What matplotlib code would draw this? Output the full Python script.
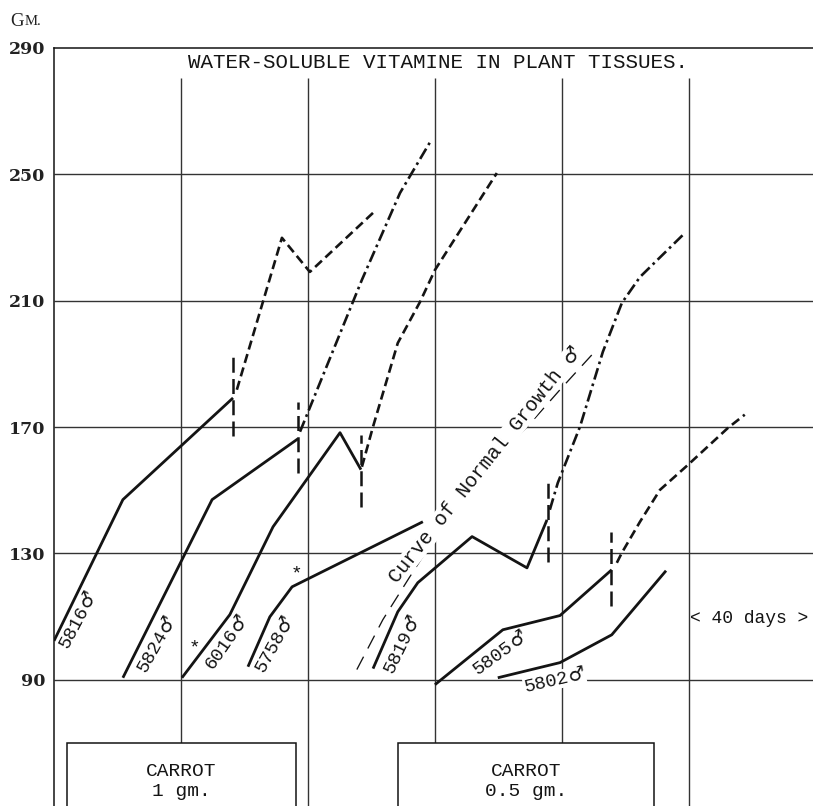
import numpy as np
import matplotlib
matplotlib.use("Agg")
import matplotlib.pyplot as plt
from matplotlib.patches import Rectangle
from matplotlib.transforms import offset_copy

# --- data (x = days, y = body weight in grams) ---
# solid: growth on basal diet, then a vertical marker, then the continuation
# after carrot was added (dashed or dash-dot)
s5816_d = [0, 21.7, 56.4]
s5816_g = [102.3, 147.0, 179.2]
c5816_d = [57.6, 71.8, 80.6, 100.5]
c5816_g = [181.8, 229.9, 219.1, 237.8]

s5824_d = [21.7, 49.8, 76.9]
s5824_g = [90.6, 147.0, 166.3]
c5824_d = [77.5, 97.0, 109.0, 118.7]
c5824_g = [168.5, 216.6, 244.1, 260.6]

s6016_d = [40.3, 55.4, 69.0, 90.1, 96.7]
s6016_g = [90.6, 110.6, 138.4, 168.2, 156.5]
c6016_d = [97.0, 100.5, 108.3, 115.3, 120.0, 139.5]
c6016_g = [157.4, 170.1, 196.6, 209.6, 219.7, 250.4]

s5758_d = [61.1, 68.0, 75.0, 116.2]
s5758_g = [94.1, 109.9, 119.4, 140.0]

s5819_d = [100.5, 108.3, 114.6, 131.7, 149.0, 155.3]
s5819_g = [93.5, 111.5, 120.7, 135.3, 125.4, 140.6]
c5819_d = [156.2, 158.7, 165.7, 172.9, 178.9, 184.6, 198.1]
c5819_g = [143.8, 152.3, 170.1, 193.8, 209.3, 217.5, 230.8]

s5805_d = [120.0, 141.4, 159.4, 175.7]
s5805_g = [88.4, 105.8, 110.3, 124.8]
c5805_d = [177.3, 178.9, 184.6, 190.9, 199.7, 212.3, 217.6]
c5805_g = [127.0, 130.2, 140.0, 150.1, 158.0, 169.7, 173.9]

s5802_d = [139.8, 159.4, 175.7, 192.8]
s5802_g = [90.6, 95.4, 104.2, 124.5]

normal_d = [95.4, 103.6, 112.1, 124.7, 137.3, 149.9, 159.4, 169.4]
normal_g = [93.2, 109.0, 122.6, 142.2, 157.7, 171.0, 181.8, 192.8]

# vertical markers where the diet changed: day, low, high
markers = [(56.4, 167, 193), (76.9, 155.5, 178), (96.7, 144.7, 167.5),
           (155.5, 127.3, 154.2), (175.4, 113.4, 136.8)]

stars = [(44.4, 100.1), (76.5, 123.5)]

# rat labels: number, centre (day, gm), angle
rat_labels = [("5816", 6.9, 108.5, 62), ("5824", 31.5, 100.8, 61),
              ("6016", 53.7, 101.4, 55), ("5758", 68.9, 100.8, 61),
              ("5819", 108.9, 100.8, 64), ("5805", 139.7, 98.3, 36),
              ("5802", 156.8, 90.0, 13)]

y_ticks = [90, 130, 170, 210, 250, 290]
x_grid = [40, 80, 120, 160, 200]

INK = "#141414"
MONO = "Liberation Mono"
MALE = "\u2642"

fig = plt.figure(figsize=(8.13, 8.06), dpi=100)
ax = fig.add_axes([54 / 813, 0, 759 / 813, 758 / 806])
ax.set_xlim(0, 239.1)
ax.set_ylim(50, 290)
for side in ("right", "bottom"):
    ax.spines[side].set_visible(False)
for side in ("left", "top"):
    ax.spines[side].set_linewidth(1.1)
    ax.spines[side].set_color(INK)

ax.set_xticks([])
ax.set_yticks(y_ticks)
ax.set_yticklabels([str(v) for v in y_ticks], family="DejaVu Serif",
                   weight="bold", fontsize=12.5, color="#222")
ax.tick_params(axis="y", length=0, pad=6)

ax.hlines(y_ticks[:-1], 0, 239.1, color="#333", lw=1.0, zorder=1)
ax.vlines(x_grid, 40, 280.5, color="#333", lw=1.0, zorder=1)

solid = dict(color=INK, lw=2.0, solid_capstyle="butt", zorder=2)
dashed = dict(color=INK, lw=1.9, ls=(0, (3.5, 1.8)), zorder=2)
dashdot = dict(color=INK, lw=1.9, ls=(0, (4.5, 1.6, 1.0, 1.6)), zorder=2)

ax.plot(s5816_d, s5816_g, **solid)
ax.plot(c5816_d, c5816_g, **dashed)
ax.plot(s5824_d, s5824_g, **solid)
ax.plot(c5824_d, c5824_g, **dashdot)
ax.plot(s6016_d, s6016_g, **solid)
ax.plot(c6016_d, c6016_g, **dashed)
ax.plot(s5758_d, s5758_g, **solid)
ax.plot(s5819_d, s5819_g, **solid)
ax.plot(c5819_d, c5819_g, **dashdot)
ax.plot(s5805_d, s5805_g, **solid)
ax.plot(c5805_d, c5805_g, **dashed)
ax.plot(s5802_d, s5802_g, **solid)
ax.plot(normal_d, normal_g, color=INK, lw=0.95, ls=(0, (11, 7)), zorder=2)

for d, lo, hi in markers:
    ax.plot([d, d], [lo, hi], color=INK, lw=1.8, ls=(0, (6, 2.5)), zorder=2)

for d, g in stars:
    ax.text(d, g, "*", family=MONO, fontsize=14, ha="center", va="center",
            color=INK, zorder=4)


def male_label(text, d, g, rot, size, sym_size, bbox=None):
    """Typed text plus a full-size male sign, both on one rotated baseline.
    (d, g) is the visual centre of the whole label."""
    th = np.deg2rad(rot)
    px = size * 100 / 72
    w1 = len(text) * 0.6 * px
    w2 = 0.62 * sym_size * 100 / 72
    along = (w1 - w2) / 2          # centre -> join point, px
    down = 0.31 * px               # centre -> baseline, px
    dx = along * np.cos(th) + down * np.sin(th)
    dy = along * np.sin(th) - down * np.cos(th)
    tr = offset_copy(ax.transData, fig=fig, x=dx * 0.72, y=dy * 0.72,
                     units="points")
    kw = dict(transform=tr, rotation=rot, rotation_mode="anchor",
              va="baseline", color=INK, zorder=4)
    if bbox:
        kw["bbox"] = bbox
    ax.text(d, g, text, family=MONO, fontsize=size, ha="right", **kw)
    ax.text(d, g, MALE, family="DejaVu Sans", fontsize=sym_size, ha="left",
            **kw)


white = dict(facecolor="white", edgecolor="none", pad=0.5)
for num, d, g, rot in rat_labels:
    male_label(num, d, g, rot, 13.5, 13.5,
               bbox=white if num == "5802" else None)

male_label("Curve of Normal Growth ", 135.2, 157.8, 51.5, 14.5, 14,
           bbox=dict(facecolor="white", edgecolor="none", pad=0.3))

# carrot boxes (white, hide the grid behind them)
for x0, x1, dose in [(4.1, 76.2, "1 gm."), (108.3, 189.0, "0.5 gm.")]:
    ax.add_patch(Rectangle((x0, 40), x1 - x0, 30.1, facecolor="white",
                           edgecolor=INK, lw=1.1, zorder=3))
    xc = (x0 + x1) / 2
    ax.text(xc, 60.9, "CARROT", family=MONO, fontsize=14, ha="center",
            va="center", color=INK, zorder=4)
    ax.text(xc, 54.6, dose, family=MONO, fontsize=14, ha="center",
            va="center", color=INK, zorder=4)

ax.text(200.2, 109.3, "< 40 days >", family=MONO, fontsize=13, ha="left",
        va="center", color=INK, zorder=4)

ax.text(121.0, 285.3, "WATER-SOLUBLE VITAMINE IN PLANT TISSUES.", family=MONO,
        fontsize=15, ha="center", va="center", color=INK, zorder=4)

fig.text(10 / 813, 1 - 21 / 806, "G", family="Liberation Serif", fontsize=13.5,
         va="center", ha="left", color="#222")
fig.text(25 / 813, 1 - 21.5 / 806, "M.", family="Liberation Serif",
         fontsize=10.5, va="center", ha="left", color="#222")

fig.savefig("out.png", dpi=100, facecolor="white")
